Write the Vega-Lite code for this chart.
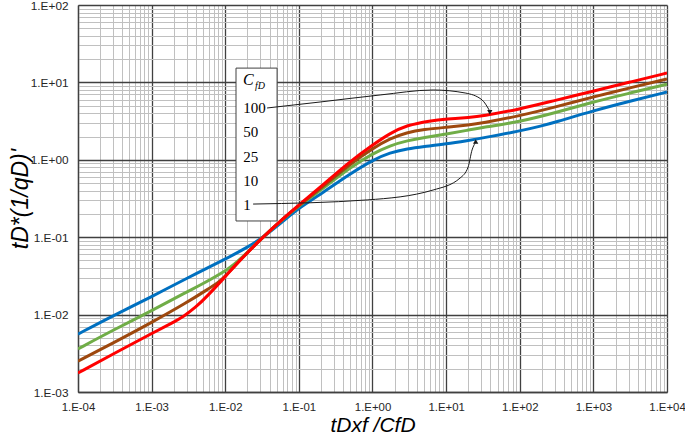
{
  "$schema": "https://vega.github.io/schema/vega-lite/v6.json",
  "width": 589,
  "height": 387,
  "autosize": {"type": "none"},
  "padding": {"left": 78, "top": 5, "right": 18, "bottom": 53},
  "background": "white",
  "config": {"view": {"stroke": null}, "font": "Liberation Sans"},
  "datasets": {
    "curves": [
      {"cfd": "1", "x": 0.0001, "y": 0.0056}, {"cfd": "1", "x": 0.0003, "y": 0.0097}, {"cfd": "1", "x": 0.001, "y": 0.017}, {"cfd": "1", "x": 0.003, "y": 0.0295}, {"cfd": "1", "x": 0.0105, "y": 0.053}, {"cfd": "1", "x": 0.0217, "y": 0.0775}, {"cfd": "1", "x": 0.0313, "y": 0.0968}, {"cfd": "1", "x": 0.06, "y": 0.159}, {"cfd": "1", "x": 0.104, "y": 0.245}, {"cfd": "1", "x": 0.215, "y": 0.38}, {"cfd": "1", "x": 0.5, "y": 0.66}, {"cfd": "1", "x": 1, "y": 0.99}, {"cfd": "1", "x": 1.73, "y": 1.24}, {"cfd": "1", "x": 3, "y": 1.39}, {"cfd": "1", "x": 4.92, "y": 1.48}, {"cfd": "1", "x": 10, "y": 1.6}, {"cfd": "1", "x": 20, "y": 1.78}, {"cfd": "1", "x": 30, "y": 1.9}, {"cfd": "1", "x": 100, "y": 2.35}, {"cfd": "1", "x": 200, "y": 2.75}, {"cfd": "1", "x": 300, "y": 3.05}, {"cfd": "1", "x": 1000, "y": 4.3}, {"cfd": "1", "x": 3000, "y": 5.65}, {"cfd": "1", "x": 10000, "y": 7.5},
      {"cfd": "10", "x": 0.0001, "y": 0.0036}, {"cfd": "10", "x": 0.0003, "y": 0.0063}, {"cfd": "10", "x": 0.001, "y": 0.0112}, {"cfd": "10", "x": 0.003, "y": 0.0197}, {"cfd": "10", "x": 0.0046, "y": 0.024}, {"cfd": "10", "x": 0.0116, "y": 0.0396}, {"cfd": "10", "x": 0.0159, "y": 0.0515}, {"cfd": "10", "x": 0.0313, "y": 0.097}, {"cfd": "10", "x": 0.06, "y": 0.171}, {"cfd": "10", "x": 0.104, "y": 0.26}, {"cfd": "10", "x": 0.215, "y": 0.43}, {"cfd": "10", "x": 0.5, "y": 0.8}, {"cfd": "10", "x": 1, "y": 1.2}, {"cfd": "10", "x": 1.73, "y": 1.53}, {"cfd": "10", "x": 3, "y": 1.77}, {"cfd": "10", "x": 5, "y": 1.94}, {"cfd": "10", "x": 10, "y": 2.15}, {"cfd": "10", "x": 20, "y": 2.42}, {"cfd": "10", "x": 30, "y": 2.6}, {"cfd": "10", "x": 100, "y": 3.1}, {"cfd": "10", "x": 300, "y": 4.05}, {"cfd": "10", "x": 1000, "y": 5.6}, {"cfd": "10", "x": 3000, "y": 7.2}, {"cfd": "10", "x": 10000, "y": 9.5},
      {"cfd": "50", "x": 0.0001, "y": 0.0025}, {"cfd": "50", "x": 0.0003, "y": 0.0043}, {"cfd": "50", "x": 0.001, "y": 0.0079}, {"cfd": "50", "x": 0.003, "y": 0.0143}, {"cfd": "50", "x": 0.0056, "y": 0.0208}, {"cfd": "50", "x": 0.0085, "y": 0.027}, {"cfd": "50", "x": 0.0105, "y": 0.0328}, {"cfd": "50", "x": 0.0159, "y": 0.0508}, {"cfd": "50", "x": 0.0313, "y": 0.0968}, {"cfd": "50", "x": 0.06, "y": 0.172}, {"cfd": "50", "x": 0.104, "y": 0.265}, {"cfd": "50", "x": 0.215, "y": 0.455}, {"cfd": "50", "x": 0.5, "y": 0.89}, {"cfd": "50", "x": 1, "y": 1.4}, {"cfd": "50", "x": 1.73, "y": 1.88}, {"cfd": "50", "x": 2.92, "y": 2.25}, {"cfd": "50", "x": 5, "y": 2.47}, {"cfd": "50", "x": 10, "y": 2.63}, {"cfd": "50", "x": 21, "y": 2.82}, {"cfd": "50", "x": 30, "y": 2.96}, {"cfd": "50", "x": 100, "y": 3.7}, {"cfd": "50", "x": 300, "y": 4.8}, {"cfd": "50", "x": 1000, "y": 6.5}, {"cfd": "50", "x": 3000, "y": 8.4}, {"cfd": "50", "x": 10000, "y": 11.1},
      {"cfd": "100", "x": 0.0001, "y": 0.00176}, {"cfd": "100", "x": 0.0003, "y": 0.0031}, {"cfd": "100", "x": 0.001, "y": 0.0057}, {"cfd": "100", "x": 0.002, "y": 0.008}, {"cfd": "100", "x": 0.0027, "y": 0.0094}, {"cfd": "100", "x": 0.004, "y": 0.0125}, {"cfd": "100", "x": 0.0056, "y": 0.017}, {"cfd": "100", "x": 0.0105, "y": 0.0325}, {"cfd": "100", "x": 0.0159, "y": 0.0507}, {"cfd": "100", "x": 0.0313, "y": 0.0968}, {"cfd": "100", "x": 0.06, "y": 0.172}, {"cfd": "100", "x": 0.104, "y": 0.27}, {"cfd": "100", "x": 0.215, "y": 0.48}, {"cfd": "100", "x": 0.5, "y": 0.96}, {"cfd": "100", "x": 1, "y": 1.55}, {"cfd": "100", "x": 1.73, "y": 2.2}, {"cfd": "100", "x": 2.92, "y": 2.8}, {"cfd": "100", "x": 6.07, "y": 3.2}, {"cfd": "100", "x": 10.2, "y": 3.37}, {"cfd": "100", "x": 21.2, "y": 3.54}, {"cfd": "100", "x": 30, "y": 3.66}, {"cfd": "100", "x": 100, "y": 4.5}, {"cfd": "100", "x": 300, "y": 5.85}, {"cfd": "100", "x": 1000, "y": 7.7}, {"cfd": "100", "x": 3000, "y": 10.0}, {"cfd": "100", "x": 10000, "y": 13.2}
    ],
    "box": [{"x": 0.014, "x2": 0.0506, "y": 0.162, "y2": 15.3}],
    "nums": [
      {"x": 0.0175, "y": 4.71, "t": "100"},
      {"x": 0.0175, "y": 2.31, "t": "50"},
      {"x": 0.0175, "y": 1.1, "t": "25"},
      {"x": 0.0175, "y": 0.537, "t": "10"},
      {"x": 0.0175, "y": 0.261, "t": "1"}
    ],
    "cC": [{"x": 0.0174, "y": 10.7, "t": "C"}],
    "cSub": [{"x": 0.0254, "y": 9.1, "t": "fD"}],
    "arrows": [
      {"a": "a100", "x": 0.037, "y": 4.67}, {"a": "a100", "x": 0.194, "y": 5.58}, {"a": "a100", "x": 1.27, "y": 6.88}, {"a": "a100", "x": 6.65, "y": 7.98}, {"a": "a100", "x": 18.1, "y": 7.3}, {"a": "a100", "x": 30.8, "y": 5.93}, {"a": "a100", "x": 38.4, "y": 4.4},
      {"a": "a1", "x": 0.0239, "y": 0.268}, {"a": "a1", "x": 0.846, "y": 0.303}, {"a": "a1", "x": 6.65, "y": 0.407}, {"a": "a1", "x": 15.5, "y": 0.582}, {"a": "a1", "x": 19.9, "y": 0.807}, {"a": "a1", "x": 22.5, "y": 1.34}, {"a": "a1", "x": 24.8, "y": 1.65}
    ],
    "heads": [
      {"x": 39.2, "y": 4.1, "dir": "down"},
      {"x": 25.2, "y": 1.72, "dir": "up"}
    ]
  },
  "encoding": {
    "x": {
      "field": "x", "type": "quantitative",
      "scale": {"type": "log", "domain": [0.0001, 10000], "nice": false},
      "axis": {
        "values": [0.0001,0.0002,0.0003,0.0004,0.0005,0.0006,0.0007,0.0008,0.0009,0.001,0.002,0.003,0.004,0.005,0.006,0.007,0.008,0.009,0.01,0.02,0.03,0.04,0.05,0.06,0.07,0.08,0.09,0.1,0.2,0.3,0.4,0.5,0.6,0.7,0.8,0.9,1,2,3,4,5,6,7,8,9,10,20,30,40,50,60,70,80,90,100,200,300,400,500,600,700,800,900,1000,2000,3000,4000,5000,6000,7000,8000,9000,10000],
        "labelExpr": "abs(log(datum.value)/LN10 - round(log(datum.value)/LN10)) < 0.001 ? '1.E' + (round(log(datum.value)/LN10) < 0 ? '-' : '+') + (abs(round(log(datum.value)/LN10)) < 10 ? '0' : '') + abs(round(log(datum.value)/LN10)) : ''",
        "labelFontSize": 11.4, "labelColor": "#262626", "labelPadding": 9, "labelFlush": false, "labelOverlap": false, "labelBound": false,
        "ticks": false, "tickSize": 0,
        "domain": true, "domainColor": "#404040", "domainWidth": 1.3,
        "grid": true,
        "gridColor": {"condition": {"test": "abs(log(datum.value)/LN10 - round(log(datum.value)/LN10)) < 0.001", "value": "#404040"}, "value": "#c0c0c0"},
        "gridWidth": {"condition": {"test": "abs(log(datum.value)/LN10 - round(log(datum.value)/LN10)) < 0.001", "value": 1.3}, "value": 1},
        "gridOpacity": 1,
        "title": "tDxf /CfD", "titleFont": "Liberation Sans", "titleFontStyle": "italic", "titleFontWeight": "normal", "titleFontSize": 21, "titleColor": "black", "titlePadding": 2
      }
    },
    "y": {
      "field": "y", "type": "quantitative",
      "scale": {"type": "log", "domain": [0.001, 100], "nice": false},
      "axis": {
        "values": [0.001,0.002,0.003,0.004,0.005,0.006,0.007,0.008,0.009,0.01,0.02,0.03,0.04,0.05,0.06,0.07,0.08,0.09,0.1,0.2,0.3,0.4,0.5,0.6,0.7,0.8,0.9,1,2,3,4,5,6,7,8,9,10,20,30,40,50,60,70,80,90,100],
        "labelExpr": "abs(log(datum.value)/LN10 - round(log(datum.value)/LN10)) < 0.001 ? '1.E' + (round(log(datum.value)/LN10) < 0 ? '-' : '+') + (abs(round(log(datum.value)/LN10)) < 10 ? '0' : '') + abs(round(log(datum.value)/LN10)) : ''",
        "labelFontSize": 11.8, "labelColor": "#262626", "labelPadding": 10, "labelFlush": false, "labelOverlap": false, "labelBound": false,
        "ticks": false, "tickSize": 0,
        "domain": true, "domainColor": "#404040", "domainWidth": 1.3,
        "grid": true,
        "gridColor": {"condition": {"test": "abs(log(datum.value)/LN10 - round(log(datum.value)/LN10)) < 0.001", "value": "#404040"}, "value": "#c0c0c0"},
        "gridWidth": {"condition": {"test": "abs(log(datum.value)/LN10 - round(log(datum.value)/LN10)) < 0.001", "value": 1.3}, "value": 1},
        "gridOpacity": 1,
        "title": "tD*(1/qD)'", "titleFont": "Liberation Sans", "titleFontStyle": "italic", "titleFontWeight": "normal", "titleFontSize": 23, "titleColor": "black", "titlePadding": -2
      }
    }
  },
  "layer": [
    {
      "data": {"name": "box"},
      "mark": {"type": "rect", "fill": "white", "stroke": "#404040", "strokeWidth": 1},
      "encoding": {"x2": {"field": "x2"}, "y2": {"field": "y2"}}
    },
    {
      "data": {"name": "curves"},
      "mark": {"type": "line", "strokeWidth": 3, "interpolate": "basis", "clip": true},
      "encoding": {
        "color": {"field": "cfd", "type": "nominal", "scale": {"domain": ["1", "10", "50", "100"], "range": ["#0070C0", "#70AD47", "#9E480E", "#FF0000"]}, "legend": null}
      }
    },
    {
      "data": {"name": "arrows"},
      "mark": {"type": "line", "strokeWidth": 1, "color": "#1a1a1a", "interpolate": "monotone"},
      "encoding": {"detail": {"field": "a", "type": "nominal"}}
    },
    {
      "data": {"name": "heads"},
      "mark": {"type": "point", "filled": true, "color": "#1a1a1a", "size": 28, "opacity": 1},
      "encoding": {"shape": {"field": "dir", "type": "nominal", "scale": {"domain": ["down", "up"], "range": ["triangle-down", "triangle-up"]}, "legend": null}}
    },
    {
      "data": {"name": "nums"},
      "mark": {"type": "text", "font": "Liberation Serif", "fontSize": 15, "align": "left", "baseline": "middle", "color": "black"},
      "encoding": {"text": {"field": "t"}}
    },
    {
      "data": {"name": "cC"},
      "mark": {"type": "text", "font": "Liberation Serif", "fontSize": 16, "fontStyle": "italic", "align": "left", "baseline": "middle", "color": "black"},
      "encoding": {"text": {"field": "t"}}
    },
    {
      "data": {"name": "cSub"},
      "mark": {"type": "text", "font": "Liberation Serif", "fontSize": 10, "fontStyle": "italic", "align": "left", "baseline": "middle", "color": "black"},
      "encoding": {"text": {"field": "t"}}
    }
  ]
}
